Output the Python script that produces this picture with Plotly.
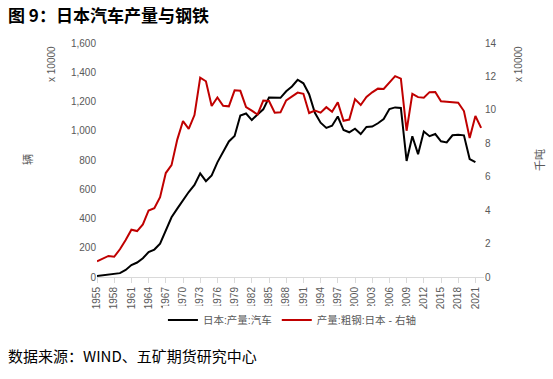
import plotly.graph_objects as go

years = list(range(1955, 2023))
car_years = list(range(1955, 2022))
# Japan auto production (x 10000 vehicles)
cars = [6.9, 11.1, 18.2, 18.8, 26.3, 48.2, 81.4, 99.1, 128.4, 170.2, 187.6, 228.6,
        314.6, 408.6, 467.5, 528.9, 581.1, 629.4, 708.3, 655.2, 694.2, 784.1, 851.4,
        927.0, 963.6, 1104.3, 1118.0, 1073.2, 1111.2, 1146.5, 1227.1, 1226.0, 1224.9,
        1269.9, 1302.6, 1348.7, 1324.5, 1249.9, 1122.8, 1055.4, 1019.6, 1034.7, 1097.5,
        1005.0, 989.5, 1014.1, 977.7, 1025.7, 1028.6, 1051.2, 1079.9, 1148.4, 1159.6,
        1156.4, 793.4, 962.9, 839.9, 994.3, 963.0, 977.5, 927.8, 920.5, 969.1, 972.9,
        968.4, 806.8, 784.7]
# Japan crude steel (x 10000 thousand tonnes)
steel = [0.94, 1.11, 1.26, 1.21, 1.66, 2.21, 2.83, 2.75, 3.15, 3.98, 4.12, 4.78,
         6.22, 6.69, 8.22, 9.33, 8.86, 9.69, 11.93, 11.71, 10.23, 10.74, 10.24, 10.21,
         11.17, 11.14, 10.17, 9.95, 9.72, 10.56, 10.53, 9.83, 9.85, 10.57, 10.79, 11.03,
         10.96, 9.81, 9.96, 9.83, 10.16, 9.88, 10.45, 9.35, 9.42, 10.64, 10.29, 10.77,
         11.05, 11.27, 11.25, 11.62, 12.02, 11.87, 8.75, 10.96, 10.76, 10.72, 11.06,
         11.07, 10.51, 10.48, 10.47, 10.43, 9.93, 8.32, 9.63, 8.92]
tick_years = list(range(1955, 2022, 3))

name_car = "日本:产量:汽车"
name_steel = "产量:粗钢:日本 - 右轴"
title = "图 9：日本汽车产量与钢铁"
source = "数据来源：WIND、五矿期货研究中心"

gray = "#595959"
font_fam = "Liberation Sans, Noto Sans CJK SC, sans-serif"

fig = go.Figure()
fig.add_trace(go.Scatter(x=car_years, y=cars, name=name_car, mode="lines",
                         line=dict(color="#000000", width=2)))
fig.add_trace(go.Scatter(x=years, y=steel, name=name_steel, mode="lines",
                         line=dict(color="#C00000", width=2), yaxis="y2"))

fig.update_layout(
    width=553, height=379,
    margin=dict(l=97, r=69, t=43, b=102),
    paper_bgcolor="white", plot_bgcolor="white",
    font=dict(family=font_fam, size=10, color=gray),
    showlegend=True,
    legend=dict(orientation="h", x=0.505, xanchor="center", y=-0.184, yanchor="middle",
                font=dict(size=10.5, color=gray), itemwidth=30),
    xaxis=dict(range=[1955, 2022.5], tickvals=tick_years, ticktext=[str(y) for y in tick_years],
               tickangle=-90, showline=True, linecolor="#D9D9D9", linewidth=1,
               ticks="outside", ticklen=5, tickcolor="#D9D9D9", showgrid=False,
               zeroline=False, tickfont=dict(size=10, color=gray), automargin=False),
    yaxis=dict(range=[0, 1600], dtick=200, tickformat=",", showgrid=False, zeroline=False,
               showline=False, tickfont=dict(size=10, color=gray), automargin=False),
    yaxis2=dict(range=[0, 14], dtick=2, overlaying="y", side="right", showgrid=False,
                zeroline=False, showline=False, tickfont=dict(size=10, color=gray),
                automargin=False),
    annotations=[
        dict(text=title, xref="paper", yref="paper", x=-91/387, y=(277-15)/234,
             xanchor="left", yanchor="middle", showarrow=False,
             font=dict(family="Noto Sans CJK SC", size=17, color="#000000", weight="bold")),
        dict(text=source, xref="paper", yref="paper", x=-91/387, y=(277-355)/234,
             xanchor="left", yanchor="middle", showarrow=False,
             font=dict(family="Noto Sans CJK SC", size=15, color="#000000")),
        dict(text="x 10000", xref="paper", yref="paper", x=(51-97)/387, y=(277-64)/234,
             xanchor="center", yanchor="middle", showarrow=False, textangle=-90,
             font=dict(size=10, color=gray)),
        dict(text="辆", xref="paper", yref="paper", x=(27-97)/387, y=(277-160)/234,
             xanchor="center", yanchor="middle", showarrow=False, textangle=-90,
             font=dict(size=11, color=gray)),
        dict(text="x 10000", xref="paper", yref="paper", x=(518-97)/387, y=(277-64)/234,
             xanchor="center", yanchor="middle", showarrow=False, textangle=-90,
             font=dict(size=10, color=gray)),
        dict(text="千吨", xref="paper", yref="paper", x=(540-97)/387, y=(277-160)/234,
             xanchor="center", yanchor="middle", showarrow=False, textangle=-90,
             font=dict(size=11, color=gray)),
    ],
)

fig.write_html("out.html", config={"displayModeBar": False},
               post_script="document.body.style.margin='0';document.body.style.overflow='hidden';")
